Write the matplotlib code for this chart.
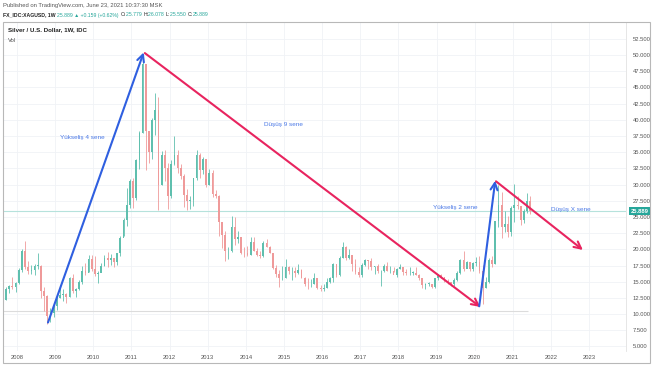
import numpy as np
import matplotlib
matplotlib.use('Agg')
import matplotlib.pyplot as plt
from matplotlib.patches import Rectangle

# ── Datos: plata semanal (resumida a velas mensuales), desde ago-2007 ─────
inicio = 2007 + 7 / 12
apertura0 = 12.9

cierres = [
    12.2, 13.9, 14.3, 14.2, 14.8,
    16.8, 19.8, 17.2, 16.6, 16.8, 17.5, 17.5, 13.6, 12.8, 9.7, 10.2, 11.3,
    12.5, 13.0, 13.1, 12.6, 15.6, 13.6, 13.9, 14.9, 16.7, 16.4, 18.5, 16.9,
    16.2, 16.4, 17.5, 18.6, 18.4, 18.7, 18.0, 19.4, 21.8, 24.6, 26.8, 30.6,
    27.9, 33.8, 37.9, 48.6, 38.3, 35.0, 40.0, 41.5, 30.0, 34.5, 32.6, 28.2,
    33.1, 34.6, 32.5, 31.3, 28.4, 27.5, 27.6, 31.0, 34.6, 32.3, 34.0, 30.0,
    31.8, 28.6, 28.2, 24.2, 22.2, 19.7, 19.8, 23.5, 21.6, 21.9, 19.5, 19.4,
    19.2, 21.2, 19.7, 19.1, 19.0, 21.0, 20.4, 19.4, 17.1, 16.2, 15.5, 15.6,
    17.2, 16.6, 16.6, 16.3, 16.8, 15.6, 14.7, 14.6, 14.6, 15.5, 14.1, 13.8,
    14.1, 15.0, 15.5, 17.8, 16.0, 18.7, 20.4, 18.7, 19.2, 17.7, 16.5, 16.0,
    17.6, 18.4, 18.2, 17.3, 17.5, 16.6, 16.7, 17.4, 16.6, 16.7, 16.0, 17.0,
    17.3, 16.5, 16.3, 16.4, 16.4, 16.1, 15.5, 14.5, 14.7, 14.7, 14.2, 15.5,
    16.1, 15.8, 15.1, 15.0, 14.6, 15.3, 16.3, 18.4, 17.0, 18.0, 17.0, 17.9,
    18.0, 16.6, 14.0, 15.0, 18.4, 17.8, 24.3, 26.9, 23.5, 23.9, 22.6, 26.4,
    26.9, 26.7, 24.5, 25.9, 27.5, 25.9,
]
maximos = [
    13.2, 14.2, 14.5, 15.8, 15.0,
    17.1, 20.0, 21.3, 18.2, 17.6, 17.7, 19.5, 17.6, 14.2, 13.0, 11.0, 11.5,
    12.7, 14.5, 13.8, 13.3, 15.7, 16.2, 14.1, 15.2, 17.4, 17.9, 19.2, 19.1,
    18.9, 16.6, 17.9, 19.1, 19.6, 19.3, 18.5, 19.5, 22.1, 24.8, 29.4, 30.9,
    31.0, 33.9, 38.2, 49.8, 48.5, 38.3, 40.2, 44.2, 43.5, 35.2, 35.4, 33.3,
    33.8, 37.5, 35.4, 33.1, 31.6, 29.3, 28.3, 31.0, 35.4, 34.8, 34.3, 34.0,
    32.4, 32.2, 29.1, 28.4, 23.3, 22.9, 20.4, 25.1, 25.0, 22.9, 21.9, 20.3,
    20.5, 21.9, 21.9, 20.2, 19.8, 21.3, 21.6, 20.5, 19.5, 17.6, 16.8, 17.4,
    18.5, 17.4, 17.2, 17.2, 17.8, 16.9, 15.7, 15.6, 15.4, 16.3, 15.0, 14.5,
    14.6, 15.5, 15.8, 17.9, 17.8, 18.9, 21.2, 20.5, 20.0, 19.2, 18.5, 17.2,
    17.9, 18.5, 18.4, 18.6, 17.5, 17.8, 16.8, 17.7, 18.1, 17.5, 17.2, 17.1,
    17.7, 17.3, 16.9, 17.3, 16.7, 17.3, 16.2, 15.5, 14.8, 14.9, 14.7, 15.5,
    16.2, 16.2, 15.7, 15.4, 15.0, 15.5, 16.6, 18.5, 19.7, 18.2, 17.9, 18.0,
    18.8, 18.9, 17.6, 15.8, 18.6, 18.9, 24.4, 29.9, 28.9, 25.9, 25.1, 26.7,
    30.1, 28.3, 26.2, 26.3, 28.7, 28.3,
]
minimos = [
    11.5, 12.2, 13.3, 13.8, 13.4,
    14.7, 16.5, 16.9, 16.2, 16.2, 16.0, 17.0, 12.5, 10.5, 8.5, 8.8, 9.6,
    10.7, 12.5, 12.0, 11.7, 12.6, 13.3, 12.6, 13.7, 14.7, 16.0, 16.5, 16.6,
    15.9, 14.8, 16.5, 17.4, 17.2, 17.6, 17.3, 17.6, 19.0, 22.1, 23.6, 26.4,
    26.4, 27.6, 32.4, 37.9, 32.3, 33.4, 33.9, 37.7, 26.1, 29.9, 30.5, 26.2,
    28.0, 33.0, 31.8, 30.8, 26.6, 26.1, 26.2, 26.7, 30.7, 31.0, 31.6, 29.6,
    29.9, 28.1, 28.0, 22.0, 20.2, 18.2, 18.5, 19.6, 20.7, 21.0, 19.3, 18.8,
    18.9, 19.2, 19.7, 18.9, 18.7, 18.8, 20.3, 19.4, 16.9, 15.7, 14.2, 15.3,
    15.6, 16.2, 15.3, 15.7, 16.2, 15.6, 14.3, 13.9, 14.2, 14.6, 13.9, 13.6,
    13.6, 14.1, 14.8, 15.0, 15.8, 15.9, 18.7, 18.4, 18.5, 16.7, 16.2, 15.7,
    15.7, 17.4, 17.0, 16.8, 16.2, 16.4, 14.3, 16.5, 16.6, 16.3, 16.5, 15.7,
    17.0, 16.1, 16.1, 16.1, 16.1, 16.0, 15.3, 14.0, 13.9, 14.3, 14.0, 14.1,
    15.3, 15.6, 14.9, 14.6, 14.3, 14.4, 15.1, 16.2, 16.6, 17.1, 16.6, 16.6,
    17.4, 16.4, 11.6, 14.1, 14.8, 17.2, 17.7, 23.5, 21.7, 22.7, 21.9, 22.0,
    24.2, 26.2, 23.8, 24.0, 25.6, 25.5,
]

ultimo = 25.889
nivel_soporte = 10.4

# cabecera de TradingView: (texto, color, negrita)
cabecera = [
    ('FX_IDC:XAGUSD, 1W ', '#222222', True),
    ('25.889 ▲ +0.159 (+0.62%) ', '#26a69a', False),
    ('O:', '#222222', False), ('25.779 ', '#26a69a', False),
    ('H:', '#222222', False), ('26.078 ', '#26a69a', False),
    ('L:', '#222222', False), ('25.550 ', '#26a69a', False),
    ('C:', '#222222', False), ('25.889', '#26a69a', False),
]

# flechas (x en años, y en USD): inicio -> fin
flechas = [
    ((2008.81, 8.7), (2011.32, 50.4), '#2f5fe0'),
    ((2011.35, 50.3), (2020.15, 11.1), '#e8245f'),
    ((2020.12, 11.2), (2020.54, 30.6), '#2f5fe0'),
    ((2020.56, 30.5), (2022.84, 19.9), '#e8245f'),
]
notas = [
    (2009.70, 37.2, 'Yükseliş 4 sene'),
    (2014.99, 39.2, 'Düşüş 9 sene'),
    (2019.49, 26.4, 'Yükseliş 2 sene'),
    (2022.53, 26.1, 'Düşüş X sene'),
]

anios = list(range(2008, 2024))
precios_eje = np.arange(5.0, 52.6, 2.5)

VERDE = '#5fbfae'
ROJO = '#ef9a9a'
plt.rcParams['font.family'] = ['Liberation Sans', 'DejaVu Sans']

W, H = 654, 366
fig = plt.figure(figsize=(W / 100, H / 100), dpi=100)
fig.patch.set_facecolor('white')

def fx(px):
    return px / W

def fy(py):
    return 1 - py / H

ax = fig.add_axes([fx(3), fy(351), fx(626) - fx(3), fy(22) - fy(351)])
ax.set_xlim(2007.63, 2023.97)
ax.set_ylim(4.3, 55.1)

# ── Rejilla ───────────────────────────────────────────────────
for p in precios_eje:
    ax.axhline(p, color='#f0f2f6', lw=0.6, zorder=0)
for a in anios:
    ax.axvline(a, color='#f0f2f6', lw=0.6, zorder=0)

# ── Velas ─────────────────────────────────────────────────────
cierres = np.array(cierres)
aperturas = np.concatenate([[apertura0], cierres[:-1]])
t = inicio + (np.arange(len(cierres)) + 0.5) / 12
ancho = 0.55 / 12
for xi, o, h, l, c in zip(t, aperturas, maximos, minimos, cierres):
    col = VERDE if c >= o else ROJO
    ax.vlines(xi, l, h, color=col, lw=0.6, zorder=2)
    ax.add_patch(Rectangle((xi - ancho / 2, min(o, c)), ancho,
                           max(abs(c - o), 0.08), facecolor=col,
                           edgecolor='none', zorder=3))

# líneas horizontales
ax.axhline(ultimo, color='#b6e2dc', lw=0.8, zorder=1)
ax.hlines(nivel_soporte, 2007.63, 2021.4, color='#dcdcdc', lw=0.8, zorder=1)

# ── Flechas y notas ───────────────────────────────────────────
for (x0, y0), (x1, y1), col in flechas:
    ax.annotate('', xy=(x1, y1), xytext=(x0, y0),
                arrowprops=dict(arrowstyle='->,head_length=0.5,head_width=0.25',
                                color=col, lw=1.5, shrinkA=0, shrinkB=0),
                zorder=5)
for x, y, s in notas:
    ax.text(x, y, s, color='#4a78e6', fontsize=4.6, ha='center', va='center',
            zorder=6)

# ── Ejes ──────────────────────────────────────────────────────
for lado in ['top', 'left', 'bottom']:
    ax.spines[lado].set_visible(False)
ax.spines['right'].set_color('#e2e2e2')
ax.spines['right'].set_linewidth(0.6)

ax.yaxis.tick_right()
ax.set_yticks(precios_eje)
ax.set_yticklabels(['%.3f' % p for p in precios_eje])
ax.set_xticks(anios)
ax.set_xticklabels([str(a) for a in anios])
ax.tick_params(axis='y', length=0, labelsize=4.2, labelcolor='#555555', pad=5)
ax.tick_params(axis='x', length=0, labelsize=4.2, labelcolor='#555555', pad=3)

# etiqueta del último precio
ax.annotate('%.3f' % ultimo, xy=(1, ultimo), xycoords=('axes fraction', 'data'),
            xytext=(3.5, 0), textcoords='offset points', ha='left', va='center',
            fontsize=4.2, color='white', fontweight='bold',
            bbox=dict(boxstyle='square,pad=0.25', fc='#26a69a', ec='none'))

# ── Textos de cabecera ────────────────────────────────────────
fig.text(fx(3), fy(5), 'Published on TradingView.com, June 23, 2021 10:37:30 MSK',
         fontsize=4.2, color='#555555', va='center')

renderer = fig.canvas.get_renderer()
x_px = 3.0
for s, col, negrita in cabecera:
    txt = fig.text(fx(x_px), fy(15), s, fontsize=3.7, color=col, va='center',
                   fontweight='bold' if negrita else 'normal',
                   family=['Liberation Sans', 'DejaVu Sans'])
    x_px += txt.get_window_extent(renderer).width + 0.2

fig.text(fx(8), fy(30), 'Silver / U.S. Dollar, 1W, IDC', fontsize=4.4,
         color='#222222', fontweight='bold', va='center')
fig.text(fx(8), fy(40), 'Vol', fontsize=4.2, color='#555555', va='center')

# marco exterior
fig.patches.append(Rectangle((fx(3), fy(363)), fx(650) - fx(3), fy(22) - fy(363),
                             transform=fig.transFigure, fill=False,
                             ec='#b8b8b8', lw=0.8))

fig.savefig('out.png', dpi=100)
